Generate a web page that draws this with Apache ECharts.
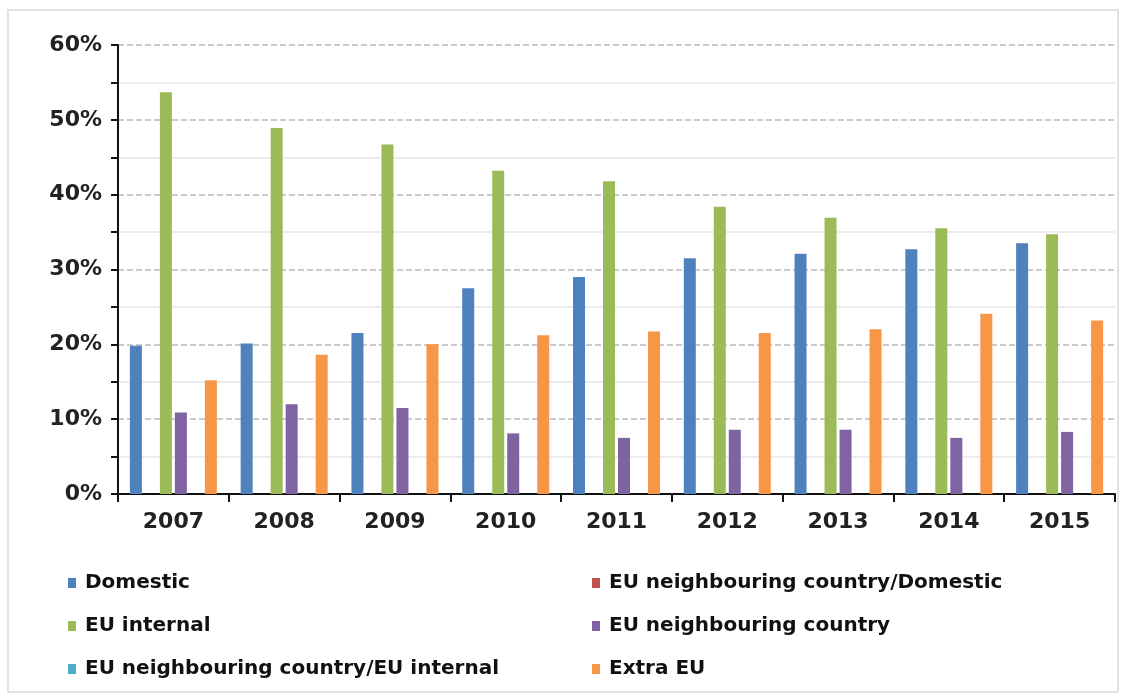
<!DOCTYPE html>
<html>
<head>
    <meta charset="utf-8">
    <title>Traffic share</title>
    <script src="https://cdn.jsdelivr.net/npm/echarts@6/dist/echarts.min.js"></script>
</head>
<body style="margin:0">
    <div id="main" style="width:1130px;height:699px;"></div>
    <script type="text/javascript">
        // years on the x axis
        var years = ['2007', '2008', '2009', '2010', '2011', '2012', '2013', '2014', '2015'];
        // shares in percent
        var domestic = [19.8, 20.1, 21.5, 27.5, 29.0, 31.5, 32.1, 32.7, 33.5];
        var neighDomestic = [0, 0, 0, 0, 0, 0, 0, 0, 0];
        var euInternal = [53.7, 48.9, 46.7, 43.2, 41.8, 38.4, 36.9, 35.5, 34.7];
        var neighCountry = [10.9, 12.0, 11.5, 8.1, 7.5, 8.6, 8.6, 7.5, 8.3];
        var neighInternal = [0, 0, 0, 0, 0, 0, 0, 0, 0];
        var extraEU = [15.2, 18.6, 20.0, 21.2, 21.7, 21.5, 22.0, 24.1, 23.2];

        var myChart = echarts.init(document.getElementById('main'));

        var font = 'DejaVu Sans, Verdana, sans-serif';
        var legendText = { fontFamily: font, fontSize: 20, fontWeight: 'bold', color: '#111', padding: [0, 0, 0, 4] };

        function bar(name, data, color) {
            return {
                name: name,
                type: 'bar',
                data: data,
                barWidth: 12,
                barGap: '25%',
                itemStyle: { color: color }
            };
        }

        var option = {
            animation: false,
            backgroundColor: '#fff',
            graphic: [{
                type: 'rect',
                shape: { x: 8, y: 10, width: 1110, height: 682 },
                style: { fill: 'none', stroke: '#d9d9d9', lineWidth: 1.5 }
            }],
            grid: { left: 118, right: 15, top: 45, bottom: 205 },
            legend: [{
                orient: 'vertical',
                left: 63, top: 568,
                itemGap: 23, itemWidth: 8, itemHeight: 10,
                icon: 'rect',
                textStyle: legendText,
                data: ['Domestic', 'EU internal', 'EU neighbouring country/EU internal']
            }, {
                orient: 'vertical',
                left: 587, top: 568,
                itemGap: 23, itemWidth: 8, itemHeight: 10,
                icon: 'rect',
                textStyle: legendText,
                data: ['EU neighbouring country/Domestic', 'EU neighbouring country', 'Extra EU']
            }],
            xAxis: {
                type: 'category',
                data: years,
                axisLine: { lineStyle: { color: '#111', width: 2 } },
                axisTick: { show: true, length: 8, lineStyle: { color: '#111', width: 2 } },
                axisLabel: { fontFamily: font, fontSize: 22, fontWeight: 'bold', color: '#222', margin: 17 }
            },
            yAxis: {
                type: 'value',
                min: 0, max: 60, interval: 10,
                axisLine: { show: true, lineStyle: { color: '#111', width: 2 } },
                axisTick: { show: true, length: 7, lineStyle: { color: '#111', width: 2 } },
                minorTick: { show: true, splitNumber: 2, length: 7, lineStyle: { color: '#111', width: 2 } },
                axisLabel: {
                    fontFamily: font, fontSize: 22, fontWeight: 'bold', color: '#222', margin: 16,
                    formatter: '{value}%'
                },
                splitLine: { lineStyle: { color: '#bbb', type: 'dashed', width: 1.5 } },
                minorSplitLine: { show: true, lineStyle: { color: '#e6e6e6', width: 1.5 } }
            },
            series: [
                bar('Domestic', domestic, '#4F81BD'),
                bar('EU neighbouring country/Domestic', neighDomestic, '#C0504D'),
                bar('EU internal', euInternal, '#9BBB59'),
                bar('EU neighbouring country', neighCountry, '#8064A2'),
                bar('EU neighbouring country/EU internal', neighInternal, '#4BACC6'),
                bar('Extra EU', extraEU, '#F79646')
            ]
        };

        myChart.setOption(option);
    </script>
</body>
</html>
